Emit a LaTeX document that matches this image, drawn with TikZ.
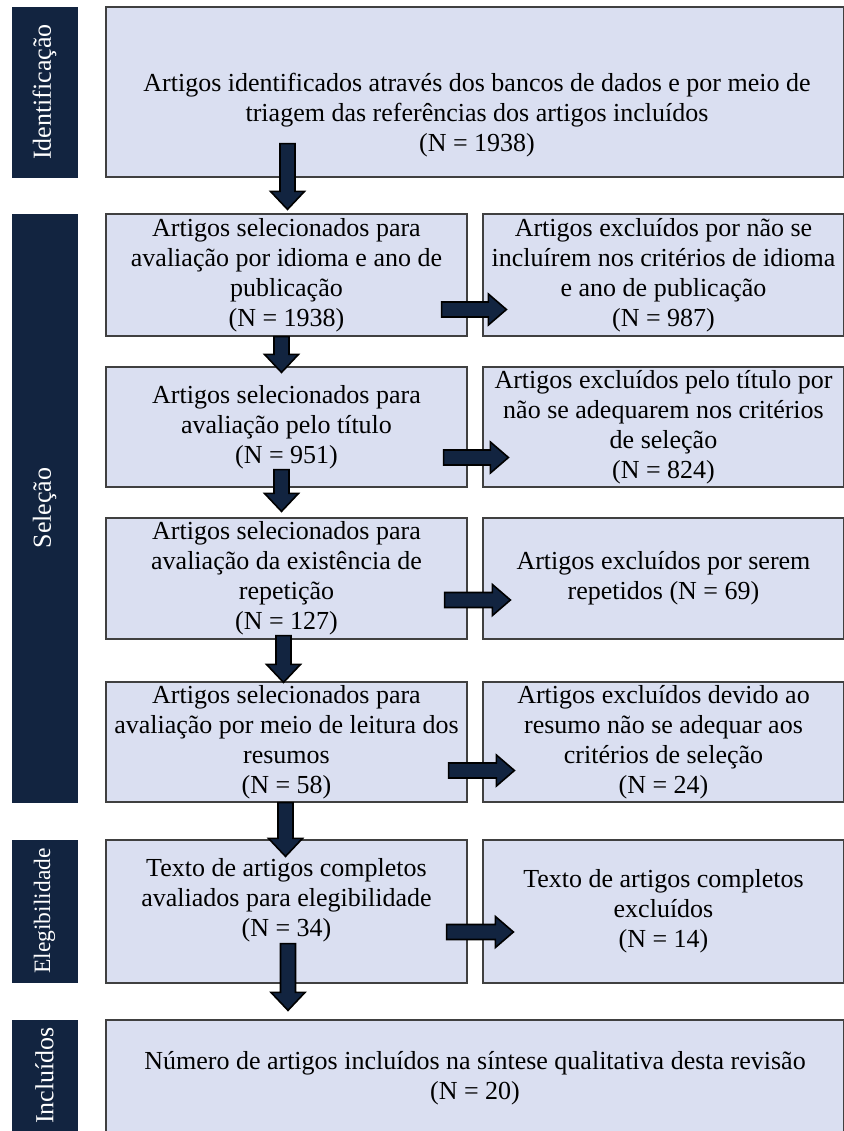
\documentclass[tikz,border=0pt]{standalone}
\usepackage{fontspec}
\setmainfont{Liberation Serif}
\usetikzlibrary{calc}

\definecolor{navy}{RGB}{18,36,64}
\definecolor{boxfill}{RGB}{218,223,241}
\definecolor{boxline}{RGB}{64,64,64}

\tikzset{
  stage/.style={fill=navy, draw=navy, rotate=90, minimum height=65pt,
    inner sep=0pt, text=white, font=\fontsize{26}{30}\selectfont},
  box/.style={draw=boxline, fill=boxfill, line width=1.2pt, inner sep=0pt,
    align=center, font=\fontsize{26}{30}\selectfont},
  txt/.style={inner sep=0pt, align=center, font=\fontsize{26}{30}\selectfont},
  flow/.style={fill=navy, draw=black, line width=1.6pt, line join=miter},
}

% block arrow pointing down: #1 source node, #2 target node, #3 axis x,
% #4 start above the source's lower edge, #5 tip below the target's upper edge
\newcommand\flowdown[5]{%
  \filldraw[flow] let \p1=(#1.south), \p2=(#2.north) in
    ({#3pt-7.5pt},{\y1+(#4pt)}) -- ({#3pt+7.5pt},{\y1+(#4pt)})
    -- ({#3pt+7.5pt},{\y2-(#5pt)+18pt}) -- ({#3pt+17pt},{\y2-(#5pt)+18pt})
    -- ({#3pt},{\y2-(#5pt)})
    -- ({#3pt-17pt},{\y2-(#5pt)+18pt}) -- ({#3pt-7.5pt},{\y2-(#5pt)+18pt})
    -- cycle;}

% block arrow pointing right: #1 source node, #2 target node, #3 axis y,
% #4 start inside the source's right edge, #5 tip inside the target's left edge
\newcommand\flowright[5]{%
  \filldraw[flow] let \p1=(#1.east), \p2=(#2.west) in
    ({\x1-(#4pt)},{-#3pt+7.5pt}) -- ({\x2+(#5pt)-18pt},{-#3pt+7.5pt})
    -- ({\x2+(#5pt)-18pt},{-#3pt+15.5pt}) -- ({\x2+(#5pt)},{-#3pt})
    -- ({\x2+(#5pt)-18pt},{-#3pt-15.5pt}) -- ({\x2+(#5pt)-18pt},{-#3pt-7.5pt})
    -- ({\x1-(#4pt)},{-#3pt-7.5pt}) -- cycle;}

\begin{document}
\begin{tikzpicture}[x=1pt,y=-1pt]
\useasboundingbox (0,0) rectangle (843,1131);

% stage bars
\node[stage, minimum width=170pt] (s1) at (44.5,92) {Identificação};
\node[stage, minimum width=588pt] (s2) at (44.5,508) {Seleção};
\node[stage, minimum width=142pt, font=\fontsize{23.5}{28}\selectfont] (s3) at (44.5,911) {Elegibilidade};
\node[stage, minimum width=111pt] (s4) at (44.5,1075.5) {Incluídos};

% identification
\node[box, minimum width=738pt, minimum height=170pt] (t1) at (475,92) {};
\node[txt] (t1txt) at (477,115) {Artigos identificados através dos bancos de dados e por meio de\\
  triagem das referências dos artigos incluídos\\(N = 1938)};

% selection, left column
\node[box, minimum width=361pt, minimum height=122pt] (b2) at (286.5,275)
  {Artigos selecionados para\\avaliação por idioma e ano de\\publicação\\(N = 1938)};
\node[box, minimum width=361pt, minimum height=120pt] (b3) at (286.5,427)
  {Artigos selecionados para\\avaliação pelo título\\(N = 951)};
\node[box, minimum width=361pt, minimum height=121pt] (b4) at (286.5,578.5)
  {Artigos selecionados para\\avaliação da existência de\\repetição\\(N = 127)};
\node[box, minimum width=361pt, minimum height=120pt] (b5) at (286.5,742)
  {Artigos selecionados para\\avaliação por meio de leitura dos\\resumos\\(N = 58)};

% selection, right column
\node[box, minimum width=361pt, minimum height=122pt] (r2) at (663.5,275)
  {Artigos excluídos por não se\\incluírem nos critérios de idioma\\e ano de publicação\\(N = 987)};
\node[box, minimum width=361pt, minimum height=120pt] (r3) at (663.5,427)
  {Artigos excluídos pelo título por\\não se adequarem nos critérios\\de seleção\\(N = 824)};
\node[box, minimum width=361pt, minimum height=121pt] (r4) at (663.5,578.5)
  {Artigos excluídos por serem\\repetidos (N = 69)};
\node[box, minimum width=361pt, minimum height=120pt] (r5) at (663.5,742)
  {Artigos excluídos devido ao\\resumo não se adequar aos\\critérios de seleção\\(N = 24)};

% eligibility
\node[box, minimum width=361pt, minimum height=143pt] (e1) at (286.5,911.5) {};
\node[txt] (e1txt) at (286.5,900)
  {Texto de artigos completos\\avaliados para elegibilidade\\(N = 34)};
\node[box, minimum width=361pt, minimum height=143pt] (e2) at (663.5,911.5)
  {Texto de artigos completos\\excluídos\\(N = 14)};

% included
\node[box, minimum width=738pt, minimum height=116pt] (incl) at (475,1078)
  {Número de artigos incluídos na síntese qualitativa desta revisão\\(N = 20)};

% flow downwards
\flowdown{t1}{b2}{287.5}{34}{-4}
\flowdown{b2}{b3}{281.5}{0}{6}
\flowdown{b3}{b4}{281.5}{18}{-6}
\flowdown{b4}{b5}{283.5}{4}{1}
\flowdown{b5}{e1}{285.5}{0}{17}
\flowdown{e1}{incl}{288}{40}{-9}

% exclusions
\flowright{b2}{r2}{309.5}{26}{24}
\flowright{b3}{r3}{457.5}{24}{26}
\flowright{b4}{r4}{600}{23}{28}
\flowright{b5}{r5}{770.5}{19}{32}
\flowright{e1}{e2}{932}{21}{31}
\end{tikzpicture}
\end{document}
